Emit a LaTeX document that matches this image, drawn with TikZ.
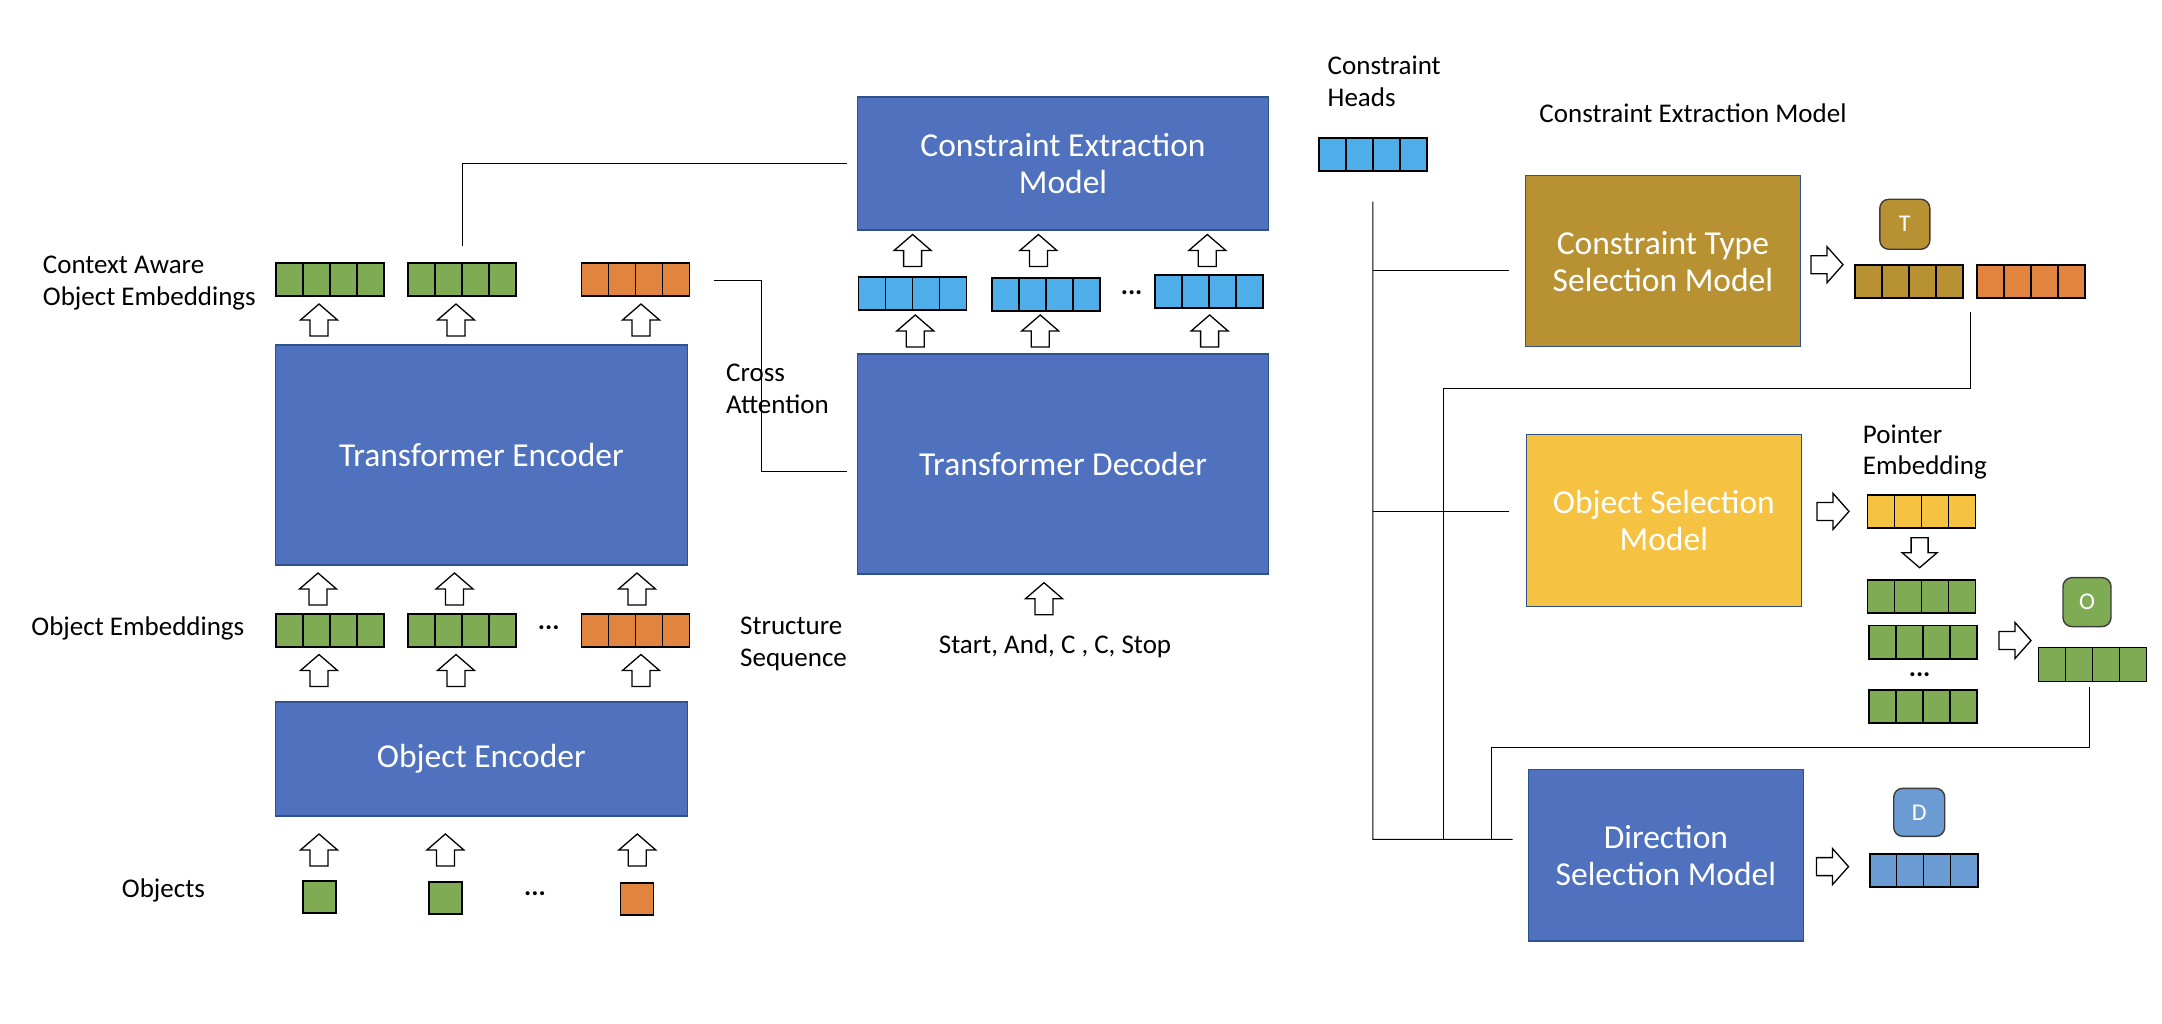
\documentclass[tikz,border=0pt]{standalone}
\usepackage{fontspec}
\setmainfont{Carlito}
\usetikzlibrary{calc}
\definecolor{boxblue}{HTML}{4F71BE}
\definecolor{boxborder}{HTML}{2F528F}
\definecolor{egreen}{HTML}{7FAB55}
\definecolor{eorange}{HTML}{E1843F}
\definecolor{eblue}{HTML}{4DAEEA}
\definecolor{gold}{HTML}{B89232}
\definecolor{yell}{HTML}{F5C242}
\definecolor{dblue}{HTML}{6A9BD2}
\definecolor{badgeborder}{HTML}{3C3C3C}
\tikzset{
  emb/.style={draw=black, line width=1.8pt, minimum width=108pt, minimum height=33pt, inner sep=0pt,
    path picture={\foreach \f in {0.25,0.5,0.75}{\draw[line width=1.5pt]
      ($(path picture bounding box.north west)!\f!(path picture bounding box.north east)$) --
      ($(path picture bounding box.south west)!\f!(path picture bounding box.south east)$);}}},
  objbox/.style={draw=black, line width=1.8pt, minimum width=33pt, minimum height=32pt, inner sep=0pt},
  model/.style={draw=boxborder, line width=1.5pt, text=white, font=\fontsize{33.5}{37}\selectfont, align=center, inner sep=0pt},
  lbl/.style={font=\fontsize{27}{31.5}\selectfont, align=left, inner sep=0pt, text=black},
  conn/.style={line width=1pt, draw=black},
  badge/.style={draw=badgeborder, line width=1.4pt, rounded corners=9pt, text=white, font=\fontsize{24}{24}\selectfont, inner sep=0pt},
  dotsn/.style={font=\fontsize{27}{27}\selectfont\bfseries, inner sep=0pt},
  arrowline/.style={draw=black, fill=white, line width=1.3pt, line join=miter},
  uarrow/.pic={\path[arrowline] (0,-16) -- (18.5,0) -- (9,0) -- (9,16) -- (-9,16) -- (-9,0) -- (-18.5,0) -- cycle;},
  darrow/.pic={\path[arrowline] (0,15) -- (17.5,0) -- (8.5,0) -- (8.5,-15) -- (-8.5,-15) -- (-8.5,0) -- (-17.5,0) -- cycle;},
  rarrow/.pic={\path[arrowline] (16,0) -- (0,-18) -- (0,-9) -- (-16,-9) -- (-16,9) -- (0,9) -- (0,18) -- cycle;}
}
\begin{document}
\begin{tikzpicture}[x=1pt,y=-1pt]
\useasboundingbox (0,0) rectangle (2162,1024);
\fill[white] (0,0) rectangle (2162,1024);

% model boxes
\node[model, fill=boxblue, minimum width=412pt, minimum height=220pt] (te) at (481.4,455.2) {Transformer Encoder};
\node[model, fill=boxblue, minimum width=412pt, minimum height=114pt] (oe) at (481.4,758.8) {Object Encoder};
\node[model, fill=boxblue, minimum width=411pt, minimum height=133pt] (cem) at (1063,163.3) {Constraint Extraction\\Model};
\node[model, fill=boxblue, minimum width=411pt, minimum height=220pt] (td) at (1063,464) {Transformer Decoder};
\node[model, fill=gold, minimum width=275pt, minimum height=171pt] (ctsm) at (1662.9,261.2) {Constraint Type\\Selection Model};
\node[model, fill=yell, minimum width=275pt, minimum height=172pt] (osm) at (1663.8,520.5) {Object Selection\\Model};
\node[model, fill=boxblue, minimum width=275pt, minimum height=171.5pt] (dsm) at (1665.9,855.4) {Direction\\Selection Model};

% left embeddings
\node[emb, fill=egreen] (ca1) at (330,279.7) {};
\node[emb, fill=egreen] (ca2) at (462.1,279.7) {};
\node[emb, fill=eorange] (ca3) at (635.5,279.7) {};
\node[emb, fill=egreen] (oe1) at (330,630.3) {};
\node[emb, fill=egreen] (oe2) at (462.1,630.3) {};
\node[emb, fill=eorange] (oe3) at (635.5,630.3) {};
\node[dotsn] (oedots) at (548.7,628) {...};
\node[objbox, fill=egreen] (ob1) at (319.5,897) {};
\node[objbox, fill=egreen] (ob2) at (445.6,898.3) {};
\node[objbox, fill=eorange] (ob3) at (637,899) {};
\node[dotsn] (obdots) at (535,894) {...};

% decoder embeddings
\node[emb, fill=eblue] (d1) at (912.4,293.3) {};
\node[emb, fill=eblue] (d2) at (1046.2,294.3) {};
\node[emb, fill=eblue] (d3) at (1209.2,291.7) {};
\node[dotsn] (ddots) at (1131.6,293) {...};

% right side
\node[emb, fill=eblue] (ch) at (1372.8,154.3) {};
\node[emb, fill=gold] (tg) at (1908.9,281.3) {};
\node[emb, fill=eorange] (tor) at (2031.2,281.3) {};
\node[badge, fill=gold, minimum width=50pt, minimum height=50pt] (tb) at (1904.8,224.3) {T};
\node[emb, fill=yell] (pe) at (1921.5,511.3) {};
\node[emb, fill=egreen, minimum height=33.5pt] (ga) at (1921.5,596.4) {};
\node[emb, fill=egreen, minimum height=33.5pt] (gb) at (1922.8,642.3) {};
\node[dotsn] (gdots) at (1919.6,675) {...};
\node[emb, fill=egreen, minimum height=33.5pt] (gc) at (1922.8,706.6) {};
\node[badge, fill=egreen, minimum width=48pt, minimum height=49pt] (obg) at (2087,602.1) {O};
\node[emb, fill=egreen, minimum height=34pt] (go) at (2092.4,664.5) {};
\node[badge, fill=dblue, minimum width=51pt, minimum height=48pt] (db) at (1919.2,812.3) {D};
\node[emb, fill=dblue] (dout) at (1923.6,870.2) {};

% labels
\node[lbl, anchor=west] (lca) at (42.7,283) {Context Aware\\Object Embeddings};
\node[lbl, anchor=west] (loe) at (31.2,628) {Object Embeddings};
\node[lbl, anchor=west] (lobj) at (121.7,890) {Objects};
\node[lbl, anchor=west] (lcross) at (726,389) {Cross\\Attention};
\node[lbl, anchor=west] (lstruct) at (740,644) {Structure\\Sequence};
\node[lbl] (lseq) at (1055,646.7) {Start, And, C , C, Stop};
\node[lbl, anchor=west] (lch) at (1327.5,81.3) {Constraint\\Heads};
\node[lbl] (lcem) at (1693,113.3) {Constraint Extraction Model};
\node[lbl, anchor=west] (lpe) at (1862.7,451.8) {Pointer\\Embedding};

% block arrows
\foreach \x/\y in {319/320, 456/320, 641/320, 318/589, 454.5/589, 637/589,
  319/670.5, 456/670.5, 641/670.5, 319/850, 445.4/850, 637.3/850,
  912.6/250.5, 1038.4/250.5, 1207.3/250.5, 915.3/331, 1040.2/331, 1209.6/331, 1044/598.7}
  \pic at (\x,\y) {uarrow};
\foreach \x/\y in {1827/264.7, 1833/511.4, 1832.5/866.6, 2015/640.5}
  \pic at (\x,\y) {rarrow};
\pic at (1919.6,552.7) {darrow};

% connectors
\coordinate (caTop) at ($(ca2.north)+(0,-16)$);
\draw[conn] (caTop) |- ($(cem.west)+(-9.5,0)$);
\coordinate (xs) at ($(ca3.east)+(24,1.3)$);
\coordinate (xm) at (761,471);
\coordinate (xe) at ($(td.west)+(-10,7)$);
\draw[conn] (xs) -| (xm) -- (xe);

\coordinate (chb) at ($(ch.south)+(0,30)$);
\coordinate (busL) at (1372.8,839.3);
\coordinate (busR) at ($(dsm.west)+(-15,-16.1)$);
\draw[conn] (chb) -- (busL) -- (busR);
\coordinate (ctB) at ($(ctsm.west)+(-16,9.5)$);
\draw[conn] (chb |- ctB) -- (ctB);
\coordinate (osB) at ($(osm.west)+(-17,-9.1)$);
\draw[conn] (chb |- osB) -- (osB);
\coordinate (tl) at ($(tg.south east)!0.5!(tor.south west)+(0,13.4)$);
\coordinate (tm) at (1443,388.3);
\coordinate (tb2) at (1443,839.3);
\draw[conn] (tl) |- (tm) -- (tb2);
\coordinate (ol) at ($(go.south)+(-3.4,4.2)$);
\coordinate (om) at (1491.4,747.1);
\coordinate (ob2b) at (1491.4,839.3);
\draw[conn] (ol) |- (om) -- (ob2b);
\end{tikzpicture}
\end{document}
